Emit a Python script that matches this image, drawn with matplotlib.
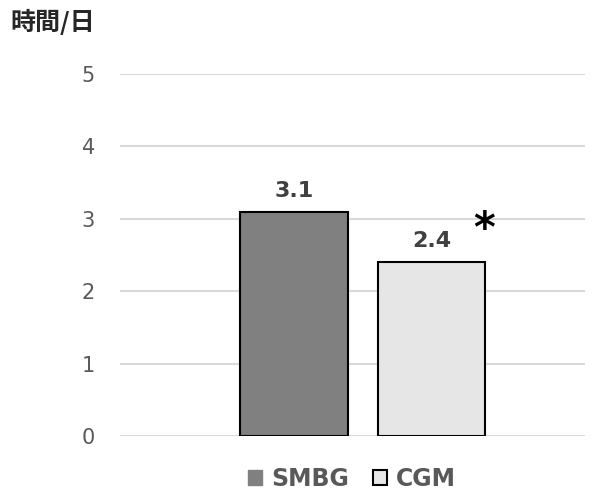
import matplotlib
matplotlib.use("Agg")
import matplotlib.pyplot as plt
from matplotlib.patches import Patch

plt.rcParams['font.family'] = ['DejaVu Sans', 'Noto Sans CJK JP']

series = ["SMBG", "CGM"]
values = [3.1, 2.4]
value_labels = ["3.1", "2.4"]
colors = ["#808080", "#e7e6e6"]
yticks = [0, 1, 2, 3, 4, 5]
ylabel = "時間/日"

fig = plt.figure(figsize=(6.0, 4.95), dpi=100)
ax = fig.add_axes([120/600, 1 - 436/495, 465/600, (436-74)/495])

xs = [0, 1]
bars = ax.bar(xs, values, width=0.785, color=colors, edgecolor="black", linewidth=1.5, zorder=3)
for x, v, lab in zip(xs, values, value_labels):
    ax.text(x, v + 0.15, lab, ha="center", va="bottom", fontsize=16, fontweight="bold", color="#404040")
ax.text(1.38, values[1] + 0.45, "*", ha="center", va="center", fontsize=30, fontweight="bold", color="black")

ax.set_xlim(-1.265, 2.116)
ax.set_ylim(0, 5)
ax.set_yticks(yticks)
ax.set_yticklabels([str(t) for t in yticks], fontsize=15, color="#595959")
ax.set_xticks([])
ax.grid(axis="y", color="#d9d9d9", linewidth=1.5, zorder=0)
for s in ax.spines.values():
    s.set_visible(False)
ax.tick_params(axis="y", length=0, pad=18)

fig.text(10/600, 1 - 22/495, ylabel, fontsize=18, fontweight="bold", color="#262626", va="center", ha="left",
         family=["Noto Sans CJK JP", "DejaVu Sans"])

handles = [Patch(facecolor=colors[0], edgecolor=colors[0]),
           Patch(facecolor=colors[1], edgecolor="black", linewidth=1.5)]
leg = fig.legend(handles, series, loc="center", bbox_to_anchor=(352/600, 1 - 479/495), ncol=2,
                 frameon=False, handlelength=0.6, handleheight=0.6, handletextpad=0.4, columnspacing=1.0,
                 prop={"size": 17, "weight": "bold"})
for t in leg.get_texts():
    t.set_color("#595959")

fig.savefig("out.png", dpi=100)
